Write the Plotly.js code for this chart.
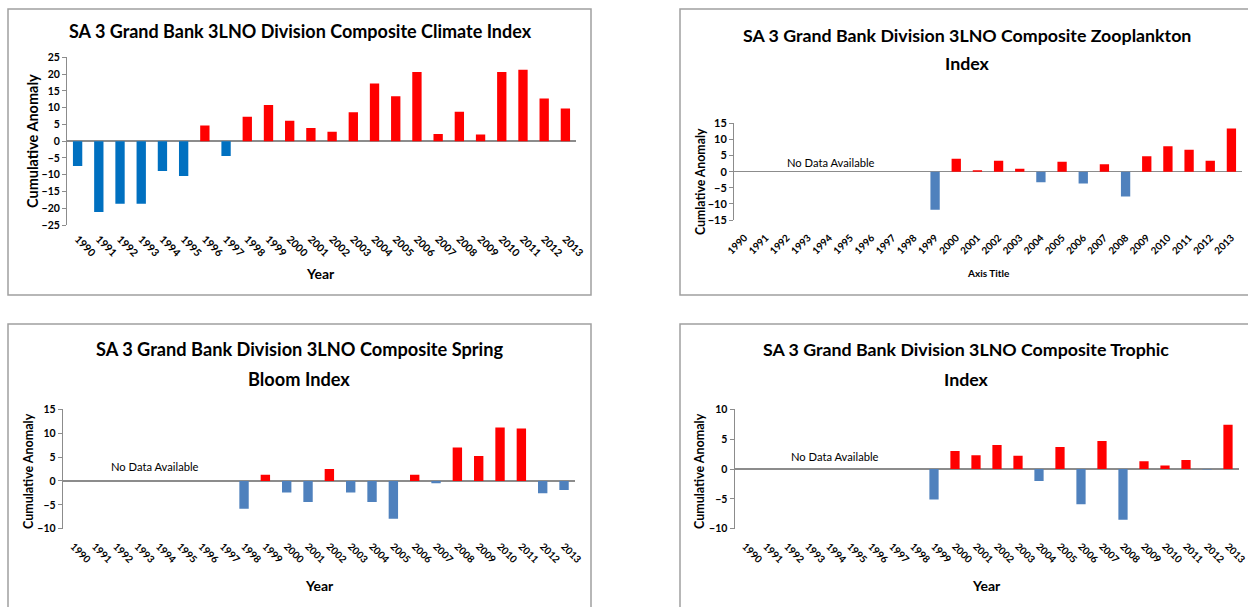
<!DOCTYPE html>
<html>
<head>
<meta charset="utf-8">
<script src="https://cdn.plot.ly/plotly-3.0.1.min.js"></script>
<style>
html,body{margin:0;padding:0;background:#fff;overflow:hidden;}
#chart{width:1248px;height:607px;}
</style>
</head>
<body>
<div id="chart"></div>
<script>
// ---- Data ----
var years = ["1990","1991","1992","1993","1994","1995","1996","1997","1998","1999","2000","2001",
             "2002","2003","2004","2005","2006","2007","2008","2009","2010","2011","2012","2013"];

var climateIndex = [-7.4,-21.1,-18.7,-18.7,-8.9,-10.4,4.7,-4.4,7.3,10.8,6.1,3.9,
                    2.8,8.6,17.2,13.4,20.6,2.1,8.8,2.0,20.6,21.3,12.7,9.7];

var zooplanktonIndex = [null,null,null,null,null,null,null,null,null,-11.8,4.0,0.4,
                        3.4,0.9,-3.3,3.1,-3.7,2.3,-7.7,4.8,7.9,6.8,3.4,13.4];

var springBloomIndex = [null,null,null,null,null,null,null,null,-5.8,1.3,-2.4,-4.4,
                        2.5,-2.4,-4.4,-7.9,1.3,-0.5,7.0,5.2,11.2,11.0,-2.6,-1.9];

var trophicIndex = [null,null,null,null,null,null,null,null,null,-5.1,3.0,2.3,
                    4.0,2.2,-2.0,3.7,-5.9,4.7,-8.5,1.3,0.6,1.5,-0.1,7.4];

var titles = [
  "SA 3 Grand Bank 3LNO Division Composite Climate Index",
  "SA 3 Grand Bank Division 3LNO Composite Zooplankton<br>Index",
  "SA 3 Grand Bank Division 3LNO Composite Spring<br>Bloom Index",
  "SA 3 Grand Bank Division 3LNO Composite Trophic<br>Index"
];
var noDataText = "No Data Available";

// ---- Styling helpers ----
var W = 1248, H = 607;
function px(x){ return x / W; }
function py(y){ return 1 - y / H; }
var RED = "#FF0000";
function colors(vals, neg){ return vals.map(function(v){ return (v !== null && v < 0) ? neg : RED; }); }

var FONT = "Lato, sans-serif";
var GRAY = "#8c8c8c";

function barTrace(vals, neg, xa, ya){
  return {
    type: "bar", x: years, y: vals, xaxis: xa, yaxis: ya,
    marker: {color: colors(vals, neg), line: {width: 0}},
    hoverinfo: "x+y", showlegend: false
  };
}

function xAxis(dom, anchor, angle, size, standoff){
  return {
    domain: dom, anchor: anchor, type: "category", categoryorder: "array", categoryarray: years,
    showline: false, showgrid: false, zeroline: false, ticks: "",
    tickangle: angle, ticklabelstandoff: standoff,
    tickfont: {family: FONT, size: size, color: "#000", weight: "bold"}
  };
}
function yAxis(dom, anchor, range, dtick, size){
  return {
    domain: dom, anchor: anchor, range: range, dtick: dtick, tick0: 0,
    showline: true, linecolor: GRAY, linewidth: 1,
    ticks: "outside", ticklen: 4, tickcolor: GRAY, tickwidth: 1,
    showgrid: false, zeroline: true, zerolinecolor: GRAY, zerolinewidth: 1.5,
    tickfont: {family: FONT, size: size, color: "#000", weight: "bold"},
    fixedrange: true
  };
}

function ann(text, x, y, size, bold, angle){
  return {
    text: text, xref: "paper", yref: "paper", x: px(x), y: py(y),
    xanchor: "center", yanchor: "middle", showarrow: false, textangle: angle || 0,
    font: {family: FONT, size: size, color: "#000", weight: bold ? "bold" : "normal"}
  };
}
// title lines drawn one by one for exact line spacing
function titleAnns(text, x, yFirst, gap, size){
  return text.split("<br>").map(function(line, i){ return ann(line, x, yFirst + i * gap, size, true); });
}

function border(x0, y0, x1, y1){
  return {type: "rect", xref: "paper", yref: "paper",
          x0: px(x0), x1: px(x1), y0: py(y1), y1: py(y0),
          line: {color: "#a0a0a0", width: 1.5}, fillcolor: "rgba(0,0,0,0)"};
}

var annotations = []
  .concat(titleAnns(titles[0], 300, 31, 0, 18))
  .concat(titleAnns(titles[1], 967, 35, 28, 17.8))
  .concat(titleAnns(titles[2], 299, 349, 30, 18.2))
  .concat(titleAnns(titles[3], 966, 349, 30, 17.8))
  .concat([
    ann(noDataText, 831, 162, 11.2, false),
    ann(noDataText, 155, 467, 11.2, false),
    ann(noDataText, 835, 456, 11.2, false),
    ann("Year", 321, 273, 14, true),
    ann("Axis Title", 988, 273, 10, true),
    ann("Year", 319, 585, 14, true),
    ann("Year", 986, 585, 14, true),
    ann("Cumulative Anomaly", 32, 141, 14.5, true, -90),
    ann("Cumlative Anomaly", 700, 182, 12.3, true, -90),
    ann("Cumulative Anomaly", 29, 471, 12.5, true, -90),
    ann("Cumulative Anomaly", 700, 471, 12.5, true, -90)
  ]);

var layout = {
  width: W, height: H,
  margin: {l: 0, r: 0, t: 0, b: 0},
  paper_bgcolor: "#fff", plot_bgcolor: "rgba(0,0,0,0)",
  bargap: 0.56,
  showlegend: false,
  xaxis:  xAxis([px(67), px(576)], "y", 45, 10.5, 5),
  yaxis:  yAxis([py(225), py(57.3)], "x", [-25, 25], 5, 10.5),
  xaxis2: xAxis([px(734), px(1242)], "y2", -45, 10, 9),
  yaxis2: yAxis([py(220), py(123.3)], "x2", [-15, 15], 5, 11),
  xaxis3: xAxis([px(62.7), px(574.7)], "y3", 45, 10, 9),
  yaxis3: yAxis([py(528.7), py(409.3)], "x3", [-10, 15], 5, 10.5),
  xaxis4: xAxis([px(734.5), px(1238.5)], "y4", 45, 10, 9),
  yaxis4: yAxis([py(528.7), py(409.3)], "x4", [-10, 10], 5, 10.5),
  shapes: [
    border(8, 9, 591, 295),
    border(680, 9, 1262, 295),
    border(8, 324, 591, 625),
    border(680, 324, 1262, 625)
  ],
  annotations: annotations
};

var data = [
  barTrace(climateIndex, "#0070C0", "x", "y"),
  barTrace(zooplanktonIndex, "#4F81BD", "x2", "y2"),
  barTrace(springBloomIndex, "#4F81BD", "x3", "y3"),
  barTrace(trophicIndex, "#4F81BD", "x4", "y4")
];

Plotly.newPlot("chart", data, layout, {displayModeBar: false, staticPlot: true});
</script>
</body>
</html>
